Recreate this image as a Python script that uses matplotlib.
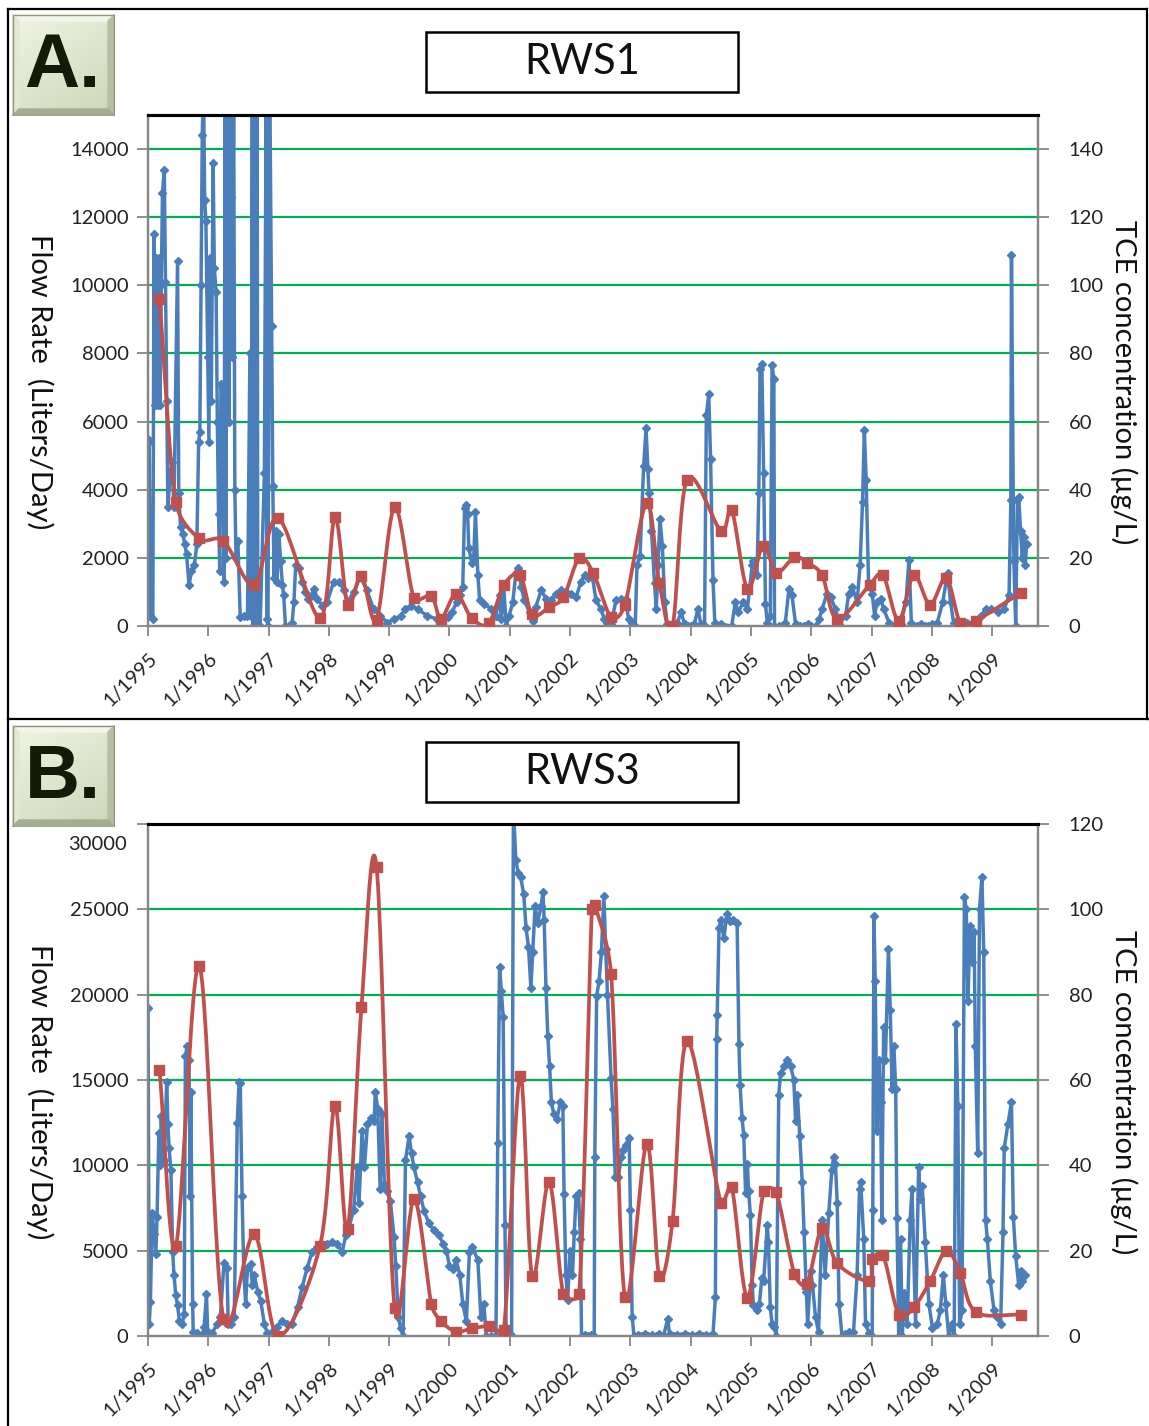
import numpy as np
import matplotlib
matplotlib.use("Agg")
import matplotlib.pyplot as plt
from matplotlib.patches import Rectangle, Polygon
from matplotlib.lines import Line2D

plt.rcParams['font.family'] = ['Lato', 'DejaVu Sans']

W, H = 1149, 1426

years = list(range(1995, 2010))
year_labels = ['1/%d' % y for y in years]

# ---- RWS1 ----
rws1_flow_t = [
    1995.00, 1995.02, 1995.04, 1995.08, 1995.10, 1995.12, 1995.14, 1995.16, 1995.18, 1995.20,
    1995.22, 1995.24, 1995.27, 1995.29, 1995.31, 1995.33, 1995.37, 1995.40, 1995.43, 1995.49,
    1995.51, 1995.54, 1995.58, 1995.61, 1995.64, 1995.68, 1995.72, 1995.77, 1995.81, 1995.84,
    1995.86, 1995.88, 1995.90, 1995.92, 1995.94, 1995.96, 1995.99, 1996.01, 1996.03, 1996.05,
    1996.08, 1996.10, 1996.13, 1996.15, 1996.17, 1996.19, 1996.21, 1996.24, 1996.26, 1996.28,
    1996.29, 1996.30, 1996.32, 1996.33, 1996.34, 1996.35, 1996.36, 1996.37, 1996.38, 1996.39,
    1996.40, 1996.42, 1996.44, 1996.46, 1996.49, 1996.53, 1996.59, 1996.65, 1996.69, 1996.71,
    1996.73, 1996.74, 1996.75, 1996.76, 1996.77, 1996.78, 1996.79, 1996.80, 1996.81, 1996.82,
    1996.86, 1996.93, 1996.96, 1996.97, 1996.99, 1997.02, 1997.05, 1997.07, 1997.09, 1997.12,
    1997.14, 1997.17, 1997.20, 1997.23, 1997.25, 1997.28, 1997.34, 1997.39, 1997.42, 1997.45,
    1997.50, 1997.56, 1997.61, 1997.66, 1997.72, 1997.75, 1997.81, 1997.89, 1997.97, 1998.08,
    1998.17, 1998.25, 1998.31, 1998.41, 1998.52, 1998.63, 1998.74, 1998.85, 1998.97, 1999.08,
    1999.19, 1999.27, 1999.36, 1999.47, 1999.63, 1999.80, 1999.88, 1999.97, 2000.04, 2000.12,
    2000.17, 2000.22, 2000.25, 2000.27, 2000.30, 2000.32, 2000.37, 2000.40, 2000.43, 2000.47,
    2000.50, 2000.58, 2000.69, 2000.77, 2000.83, 2000.86, 2000.90, 2000.94, 2000.99, 2001.05,
    2001.10, 2001.14, 2001.19, 2001.24, 2001.33, 2001.38, 2001.43, 2001.52, 2001.60, 2001.68,
    2001.77, 2001.85, 2001.93, 2002.01, 2002.10, 2002.18, 2002.24, 2002.29, 2002.37, 2002.43,
    2002.51, 2002.57, 2002.62, 2002.68, 2002.76, 2002.84, 2002.92, 2002.97, 2003.03, 2003.08,
    2003.11, 2003.16, 2003.22, 2003.26, 2003.29, 2003.31, 2003.35, 2003.40, 2003.43, 2003.46,
    2003.49, 2003.53, 2003.57, 2003.61, 2003.67, 2003.72, 2003.78, 2003.84, 2003.90, 2003.95,
    2004.01, 2004.06, 2004.12,
    2004.17, 2004.23, 2004.26, 2004.30, 2004.33, 2004.37, 2004.40, 2004.51, 2004.68, 2004.74,
    2004.79, 2004.87, 2004.94, 2005.02, 2005.04, 2005.10, 2005.13, 2005.15, 2005.18, 2005.21,
    2005.24, 2005.27, 2005.32, 2005.35, 2005.38, 2005.39, 2005.46, 2005.57, 2005.63, 2005.68,
    2005.74, 2005.82, 2005.88, 2005.94, 2005.99, 2006.07, 2006.13, 2006.18, 2006.26, 2006.32,
    2006.40, 2006.46,
    2006.57, 2006.62, 2006.68, 2006.76, 2006.81, 2006.85, 2006.88, 2006.91, 2006.95, 2007.01,
    2007.05, 2007.09, 2007.15, 2007.20, 2007.29, 2007.37, 2007.48, 2007.57, 2007.62, 2007.66,
    2007.76, 2007.82, 2007.88, 2007.93, 2008.00, 2008.09, 2008.18, 2008.26, 2008.31, 2008.36,
    2008.45, 2008.59, 2008.70,
    2008.81, 2008.90, 2008.98, 2009.09, 2009.20, 2009.28, 2009.31, 2009.32, 2009.35, 2009.36,
    2009.39, 2009.42, 2009.44, 2009.47, 2009.50, 2009.52, 2009.55, 2009.57,
]
rws1_flow = [
    5500, 5400, 300, 200, 11500, 6500, 10800, 6500, 10800, 6500,
    10000, 12700, 13400, 10100, 6600, 3500, 4500, 4800, 3500, 10700,
    3900, 2900, 2700, 2400, 2100, 1200, 1600, 1800, 2400, 5400,
    5700, 10000, 14400, 16000, 12500, 11900, 7900, 5400, 10800, 6600,
    13600, 10500, 9800, 6000, 3300, 1600, 7100, 7000, 1300, 16000,
    2000, 16000, 12500, 16000, 6000, 16000, 10000, 16000, 12600, 16000,
    7900, 16000, 4000, 2000, 2500, 250, 300, 300, 8000, 300,
    16000, 0, 16000, 0, 16000, 0, 16000, 0, 16000, 0,
    0, 4500, 16000, 200, 0, 16000, 8800, 4100, 1400, 2800,
    1300, 2700, 1900, 1200, 900, 0, 0, 100, 700, 1800,
    1700, 1300, 1000, 800, 900, 1100, 800, 600, 700, 1300,
    1300, 1050, 700, 1000, 1450, 1050, 500, 300, 100, 200,
    300, 500, 600, 500, 300, 200, 100, 250, 400, 700,
    900, 1150, 3450, 3550, 3300, 2300, 1850, 1900, 3350, 1500,
    750, 650, 500, 300, 900, 200, 1150, 0, 300, 700,
    1550, 1700, 1150, 750, 400, 150, 550, 1050, 800, 750,
    950, 1050, 1000, 950, 850, 1300, 1500, 1400, 1450, 750,
    500, 200, 100, 50, 750, 800, 800, 200, 100, 0,
    1800, 2050, 4700, 5800, 4600, 3900, 2800, 1250, 500, 1800,
    3150, 2350, 700, 50, 0, 0, 100, 400, 50, 0,
    0, 50, 500,
    50, 0, 6200, 6800, 4900, 1350, 100, 50, 0, 700,
    400, 700, 500, 1800, 1900, 1500, 3900, 7550, 7700, 4500,
    650, 100, 300, 7650, 7250, 0, 0, 100, 1100, 900,
    50, 0, 0, 50, 0, 0, 200, 500, 950, 850,
    500, 50,
    300, 950, 1150, 700, 1800, 3650, 5750, 4300, 1250, 950,
    300, 700, 800, 500, 100, 0, 50, 700, 1950, 100,
    0, 50, 0, 0, 50, 100, 700, 1550, 700, 100,
    0, 100, 100,
    300, 500, 500, 400, 500, 900, 3700, 10900, 3700, 1900,
    0, 3700, 3800, 2800, 2000, 2600, 1800, 2400,
]
rws1_tce_t = [
    1995.19, 1995.46, 1995.85, 1996.25, 1996.76, 1997.16, 1997.85, 1998.10, 1998.31, 1998.54,
    1998.79, 1999.09, 1999.41, 1999.70, 1999.86, 2000.11, 2000.37, 2000.65, 2000.90, 2001.17,
    2001.37, 2001.65, 2001.89, 2002.15, 2002.38, 2002.68, 2002.91, 2003.27, 2003.48, 2003.70,
    2003.94, 2004.50, 2004.68, 2004.94, 2005.20, 2005.42, 2005.72, 2005.93, 2006.18, 2006.43,
    2006.97, 2007.19, 2007.45, 2007.70, 2007.97, 2008.24, 2008.47, 2008.73, 2009.47,
]
rws1_tce = [
    95.9, 36.5, 25.7, 25.0, 12.1, 31.7, 2.3, 31.9, 6.3, 14.7,
    1.9, 34.9, 8.2, 8.8, 2.2, 9.4, 2.3, 0.8, 12.0, 14.9,
    3.4, 5.5, 8.4, 19.9, 15.7, 2.6, 6.3, 36.2, 12.6, 0.0,
    43.0, 28.0, 34.1, 11.0, 23.6, 15.7, 20.2, 18.6, 14.9, 2.1,
    12.1, 14.9, 1.6, 14.9, 6.3, 14.1, 1.0, 1.6, 9.7,
]

# ---- RWS3 ----
rws3_flow_t = [
    1995.00, 1995.02, 1995.04, 1995.07, 1995.10, 1995.13, 1995.15, 1995.18, 1995.20, 1995.22,
    1995.25, 1995.27, 1995.31, 1995.33, 1995.35, 1995.38, 1995.41, 1995.43, 1995.46, 1995.49,
    1995.52, 1995.57, 1995.60, 1995.62, 1995.65, 1995.68, 1995.70, 1995.71, 1995.74, 1995.75,
    1995.82, 1995.90, 1995.93, 1995.97, 1995.99, 1996.06, 1996.15, 1996.20, 1996.26, 1996.31,
    1996.33, 1996.37, 1996.43, 1996.48, 1996.51, 1996.53, 1996.56, 1996.59, 1996.62, 1996.65,
    1996.70, 1996.73, 1996.76, 1996.82, 1996.87, 1996.93, 1996.98, 1997.06, 1997.14, 1997.23,
    1997.31, 1997.39, 1997.48, 1997.56, 1997.64, 1997.72, 1997.81, 1997.89, 1997.97, 1998.05,
    1998.14, 1998.22, 1998.28, 1998.33, 1998.41, 1998.47, 1998.50, 1998.55, 1998.59, 1998.64,
    1998.70, 1998.75, 1998.77, 1998.81, 1998.85, 1998.88, 1998.92, 1998.97, 1999.02, 1999.08,
    1999.11, 1999.15, 1999.19, 1999.23, 1999.27, 1999.33, 1999.37, 1999.41, 1999.47, 1999.52,
    1999.58, 1999.66, 1999.74, 1999.82, 1999.90, 1999.95, 2000.00, 2000.06, 2000.11, 2000.17,
    2000.22, 2000.28, 2000.33, 2000.38, 2000.47, 2000.52, 2000.57, 2000.61, 2000.69, 2000.77,
    2000.80, 2000.83, 2000.86, 2000.89, 2000.92, 2000.94, 2001.00, 2001.03, 2001.06, 2001.10,
    2001.14, 2001.18, 2001.23, 2001.27, 2001.31, 2001.35, 2001.38, 2001.42, 2001.46, 2001.52,
    2001.55, 2001.57, 2001.60, 2001.63, 2001.66, 2001.69, 2001.73, 2001.78, 2001.84, 2001.88,
    2001.90, 2001.93, 2001.96, 2002.00, 2002.04, 2002.07, 2002.10, 2002.14, 2002.17, 2002.19,
    2002.24, 2002.30, 2002.35, 2002.40, 2002.41, 2002.44, 2002.48, 2002.52, 2002.56, 2002.59,
    2002.62, 2002.68,
    2002.71, 2002.75, 2002.80, 2002.85, 2002.87, 2002.92, 2002.98, 2003.00, 2003.03, 2003.06,
    2003.12, 2003.18, 2003.24, 2003.30, 2003.36, 2003.42, 2003.48, 2003.55, 2003.62, 2003.65,
    2003.72, 2003.78, 2003.84, 2003.90, 2003.96, 2004.02, 2004.08, 2004.14, 2004.20, 2004.26,
    2004.32, 2004.37, 2004.41, 2004.43, 2004.44, 2004.47,
    2004.50, 2004.55, 2004.60, 2004.66, 2004.71, 2004.77, 2004.80, 2004.82, 2004.85, 2004.88,
    2004.91, 2004.94, 2004.96, 2004.99, 2005.02, 2005.04, 2005.10, 2005.14, 2005.18, 2005.21,
    2005.27, 2005.29, 2005.32, 2005.35, 2005.39, 2005.42, 2005.46, 2005.49, 2005.55, 2005.60,
    2005.66, 2005.71, 2005.74, 2005.77, 2005.81, 2005.85, 2005.88, 2005.92, 2005.94, 2005.99,
    2006.02, 2006.07, 2006.12, 2006.18, 2006.23, 2006.29, 2006.34, 2006.37, 2006.40, 2006.43,
    2006.46, 2006.51, 2006.56, 2006.62, 2006.70, 2006.76, 2006.80, 2006.82, 2006.87, 2006.90,
    2006.96, 2007.01, 2007.02, 2007.04, 2007.06, 2007.09, 2007.12, 2007.15, 2007.17, 2007.20,
    2007.23, 2007.28, 2007.31, 2007.34, 2007.37, 2007.40, 2007.42, 2007.45, 2007.48, 2007.51,
    2007.54, 2007.59, 2007.64, 2007.67, 2007.73, 2007.78, 2007.81, 2007.84, 2007.89, 2007.95,
    2008.01, 2008.09, 2008.14, 2008.19, 2008.23, 2008.28, 2008.34, 2008.37, 2008.40, 2008.43,
    2008.46, 2008.50, 2008.54, 2008.57, 2008.60, 2008.63, 2008.67, 2008.70, 2008.72, 2008.76,
    2008.79, 2008.83, 2008.86, 2008.89, 2008.92, 2008.97, 2009.03, 2009.08, 2009.14, 2009.18,
    2009.20, 2009.26, 2009.32, 2009.35, 2009.39, 2009.44, 2009.47, 2009.50, 2009.55,
]
rws3_flow = [
    19200, 700, 2000, 7200, 6000, 4800, 7000, 11900, 10000, 12900,
    10200, 10300, 14900, 12400, 11000, 9700, 4900, 3600, 2400, 1800,
    900, 700, 1300, 16400, 17000, 16200, 8200, 14300, 1900, 250,
    150, 50, 500, 2450, 250, 150, 700, 1100, 4300, 4000,
    700, 700, 1100, 12500, 14900, 14800, 8200, 3600, 1900, 4000,
    4200, 3000, 3600, 2600, 2050, 700, 150, 250, 550, 900,
    700, 700, 1700, 2900, 4000, 4900, 5200, 5200, 5400, 5500,
    5400, 4900, 5900, 6300, 7400, 9900, 7800, 12000, 9900, 12400,
    12800, 12600, 14300, 13300, 8600, 13000, 8900, 8500, 7900, 5800,
    4100, 1100, 450, 0, 10300, 11700, 10700, 9900, 9000, 8200,
    7300, 6600, 6200, 5900, 5400, 5000, 4100, 3900, 4450, 3600,
    1900, 850, 4900, 5200, 4450, 1100, 1900, 0, 0, 0,
    11300, 21600, 20200, 18700, 6500, 0, 100, 0, 31000, 27900,
    27100, 26900, 25900, 23900, 22800, 20400, 22500, 25200, 24200, 25200,
    26000, 24400, 20400, 17600, 15800, 13700, 13000, 12700, 13700, 13500,
    8300, 3600, 2100, 5000, 3600, 6100, 8200, 8400, 5700, 0,
    50, 0, 50, 0, 10500, 19900, 20800, 22500, 25800, 22700,
    20000, 15100,
    13300, 9300, 9300, 10500, 10900, 11200, 11600, 7400, 1100, 0,
    50, 0, 100, 0, 50, 0, 100, 0, 1000, 100,
    0, 50, 0, 100, 0, 50, 0, 100, 0, 50,
    0, 100, 2300, 17400, 18800, 23900,
    24400, 23300, 24700, 24300, 24400, 24200, 17100, 14700, 12800, 11800,
    8400, 10100, 8500, 7100, 3000, 1800, 1500, 1900, 3400, 3200,
    6500, 5500, 1700, 700, 500, 0, 14100, 15400, 15800, 16200,
    15800, 15000, 12600, 14100, 11700, 9000, 6100, 2600, 700, 3800,
    3000, 1100, 250, 6800, 3600, 7200, 9700, 10500, 10100, 7800,
    1900, 0, 100, 250, 250, 3600, 8600, 9000, 5700, 700,
    150, 0, 7400, 24600, 20800, 12000, 16200, 13700, 6800, 18100,
    16200, 22700, 19100, 14500, 17000, 14500, 6900, 0, 5700, 0,
    2500, 700, 6800, 8600, 700, 9900, 8000, 8800, 5500, 1900,
    450, 700, 1500, 3600, 1900, 0, 700, 0, 18300, 13500,
    700, 1500, 25700, 25000, 19600, 24000, 21900, 23700, 17000, 10700,
    25000, 26900, 22500, 6800, 5700, 3200, 1500, 1100, 700, 6100,
    11000, 12400, 13700, 7000, 4700, 3000, 3800, 3200, 3600,
]
rws3_tce_t = [
    1995.19, 1995.46, 1995.85, 1996.25, 1996.76, 1997.16, 1997.85, 1998.10, 1998.31, 1998.54,
    1998.79, 1999.09, 1999.41, 1999.70, 1999.86, 2000.11, 2000.37, 2000.65, 2000.90, 2001.17,
    2001.37, 2001.65, 2001.89, 2002.15, 2002.36, 2002.41, 2002.68, 2002.91, 2003.27, 2003.48,
    2003.70, 2003.94, 2004.50, 2004.68, 2004.94, 2005.21, 2005.42, 2005.72, 2005.93, 2006.18,
    2006.43, 2006.95, 2007.01, 2007.19, 2007.45, 2007.70, 2007.97, 2008.24, 2008.47, 2008.73,
    2009.47,
]
rws3_tce = [
    62.4, 21.1, 86.8, 4.1, 23.8, 0.0, 21.0, 54.0, 25.1, 77.1,
    110.0, 6.6, 32.0, 7.4, 3.5, 1.0, 1.8, 2.3, 1.4, 61.0,
    14.0, 36.1, 9.8, 9.8, 100.0, 101.0, 84.9, 9.2, 45.0, 14.0,
    27.0, 69.1, 31.2, 35.0, 9.0, 33.9, 33.7, 14.6, 12.3, 25.3,
    17.0, 12.9, 18.0, 19.0, 5.0, 6.7, 12.8, 20.0, 14.8, 5.6,
    5.0,
]

BLUE = '#4a7ebb'
RED = '#c0504d'
GREEN = '#00b050'
GREY = '#868686'

PX_PER_YEAR = 60.3


def fx(x):
    return x / W


def fy(y):
    return 1 - y / H


def smooth(t, v, py, n=24):
    # Bezier smoothing in screen units; handles are shortened on short
    # segments so the curve does not swing far past the points
    sx = PX_PER_YEAR
    p = np.column_stack([np.asarray(t) * sx, np.asarray(v) * py])
    tang = np.empty_like(p)
    tang[1:-1] = (p[2:] - p[:-2]) / 6
    tang[0] = (p[1] - p[0]) / 3
    tang[-1] = (p[-1] - p[-2]) / 3
    s = np.linspace(0, 1, n, endpoint=False)[:, None]
    out = []
    for i in range(len(p) - 1):
        seg = np.hypot(*(p[i + 1] - p[i]))
        a, b = tang[i].copy(), tang[i + 1].copy()
        for h in (a, b):
            ln = np.hypot(*h)
            if ln > 0.45 * seg:
                h *= 0.45 * seg / ln
        c0, c1, c2, c3 = p[i], p[i] + a, p[i + 1] - b, p[i + 1]
        out.append((1 - s)**3 * c0 + 3 * (1 - s)**2 * s * c1
                   + 3 * (1 - s) * s**2 * c2 + s**3 * c3)
    out.append(p[-1][None, :])
    c = np.vstack(out)
    return c[:, 0] / sx, c[:, 1] / py


def style_spines(a):
    for side in ('left', 'right', 'bottom'):
        a.spines[side].set_color(GREY)
        a.spines[side].set_linewidth(1.6)
    a.spines['top'].set_color('black')
    a.spines['top'].set_linewidth(2.2)


def panel(top, bottom, flow_t, flow, tce_t, tce, ymax, yticks, tmax, tticks):
    ax = fig.add_axes([fx(148), fy(bottom), fx(1038 - 148), (bottom - top) / H])
    for v in yticks[1:]:
        if v < ymax:
            ax.axhline(v, color=GREEN, lw=1.6, zorder=0)
    ax.plot(flow_t, flow, color=BLUE, lw=2.5, marker='D', ms=4.3, zorder=2)
    ax.set_xlim(1995, 2009.76)
    ax.set_ylim(0, ymax)
    ax.set_yticks(yticks)
    ax.set_xticks(years)
    ax.set_xticklabels(year_labels, rotation=45, ha='right', va='top',
                       rotation_mode='anchor')
    ax.tick_params(axis='y', direction='out', length=8, width=1.3, color=GREY,
                   labelsize=14.5, pad=6, labelcolor='#222222')
    ax.tick_params(axis='x', direction='out', length=7, width=1.3, color=GREY,
                   labelsize=14.5, pad=10, labelcolor='#222222')
    style_spines(ax)

    ax2 = ax.twinx()
    px_per_unit = (bottom - top) / tmax
    sx, sy = smooth(tce_t, tce, px_per_unit)
    ax2.plot(sx, sy, color=RED, lw=2.7, zorder=3)
    ax2.plot(tce_t, tce, ls='none', marker='s', ms=7, color=RED, zorder=4)
    ax2.set_ylim(0, tmax)
    ax2.set_yticks(tticks)
    ax2.tick_params(axis='y', direction='out', length=8, width=1.3, color=GREY,
                    labelsize=14.5, pad=14, labelcolor='#222222')
    style_spines(ax2)
    return ax, ax2


def badge(x0, y0, x1, y1, letter):
    w, h = x1 - x0, y1 - y0
    bax = fig.add_axes([fx(x0), fy(y1), w / W, h / H])
    gy, gx = np.mgrid[0:1:64j, 0:1:64j]
    shade = (0.6 * gy + 0.4 * gx)[..., None]
    c0 = np.array([0.94, 0.96, 0.89])
    c1 = np.array([0.80, 0.84, 0.72])
    bax.imshow(c0 + (c1 - c0) * shade, extent=(0, w, h, 0), aspect='auto', zorder=0)
    bax.set_xlim(0, w)
    bax.set_ylim(h, 0)
    bax.axis('off')
    b = 7
    bax.add_patch(Polygon([(0, 0), (w, 0), (w - b, b), (b, b)], color='#f2f5e8', zorder=1))
    bax.add_patch(Polygon([(0, 0), (b, b), (b, h - b), (0, h)], color='#e2e8d2', zorder=1))
    bax.add_patch(Polygon([(w, 0), (w, h), (w - b, h - b), (w - b, b)], color='#b6bfa2', zorder=1))
    bax.add_patch(Polygon([(0, h), (w, h), (w - b, h - b), (b, h - b)], color='#a4ad8f', zorder=1))
    bax.add_patch(Rectangle((0.5, 0.5), w - 1, h - 1, fill=False, ec='#8e977c', lw=1, zorder=2))
    bax.text(w / 2 - 1, 73, letter, ha='center', va='baseline', fontsize=55,
             fontweight='bold', family=['Liberation Sans', 'DejaVu Sans'],
             color='#141a08', zorder=3)


def title_box(x0, y0, x1, y1, label):
    fig.add_artist(Rectangle((fx(x0), fy(y1)), (x1 - x0) / W, (y1 - y0) / H,
                             transform=fig.transFigure, fill=True, fc='white',
                             ec='black', lw=1.8))
    fig.text(fx((x0 + x1) / 2), fy((y0 + y1) / 2), label, ha='center', va='center',
             fontsize=30, color='#111111')


fig = plt.figure(figsize=(W / 100, H / 100), dpi=100)

# frame lines between and around the panels
for (xa, ya, xb, yb) in [(8, 9, 1147, 9), (1147, 9, 1147, 719), (8, 719, 1149, 719),
                         (8, 9, 8, 1426)]:
    fig.add_artist(Line2D([fx(xa), fx(xb)], [fy(ya), fy(yb)], color='black', lw=1.6))

# panel A
axA, axA2 = panel(115, 626, rws1_flow_t, rws1_flow, rws1_tce_t, rws1_tce,
                  15000, list(range(0, 14001, 2000)), 150, list(range(0, 141, 20)))

# panel B
axB, axB2 = panel(824, 1336, rws3_flow_t, rws3_flow, rws3_tce_t, rws3_tce,
                  30000, list(range(0, 30001, 5000)), 120, list(range(0, 121, 20)))
labels = [str(v) for v in range(0, 30001, 5000)]
labels[-1] = ''
axB.set_yticklabels(labels)
axB.annotate('30000', xy=(0, 30000), xycoords=axB.get_yaxis_transform(),
             xytext=(-21, -20), textcoords='offset pixels', ha='right', va='center',
             fontsize=14.5, color='#222222')

for yc in (382, 1092):
    fig.text(fx(40), fy(yc), 'Flow Rate  (Liters/Day)', rotation=-90, ha='center',
             va='center', fontsize=21, color='#111111')
    fig.text(fx(1124), fy(yc), 'TCE concentration (\u00b5g/L)', rotation=-90,
             ha='center', va='center', fontsize=21, color='#111111')

title_box(426, 32, 738, 92, 'RWS1')
title_box(426, 742, 738, 802, 'RWS3')
badge(12, 14, 115, 116, 'A.')
badge(12, 725, 115, 827, 'B.')

fig.savefig('out.png', dpi=100)
